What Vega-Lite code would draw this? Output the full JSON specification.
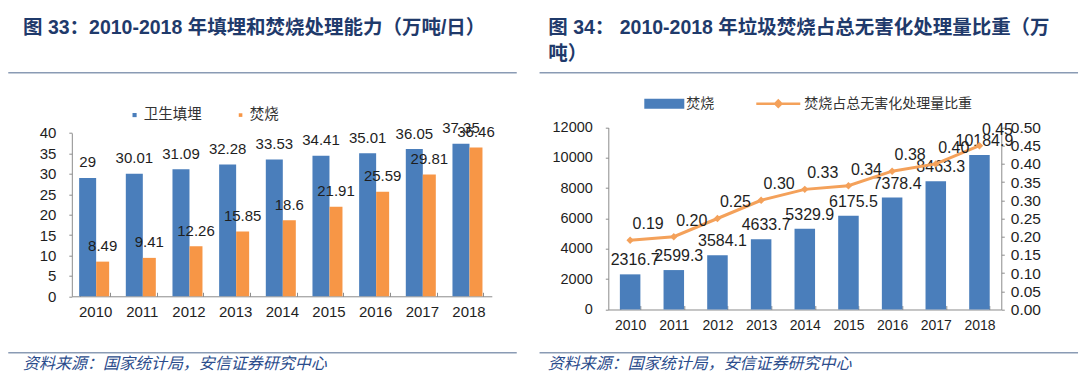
{
  "$schema": "https://vega.github.io/schema/vega-lite/v6.json",
  "padding": {"left": 8, "top": 16.7, "right": 0, "bottom": 4},
  "background": "white",
  "config": {
    "font": "Liberation Sans, Noto Sans CJK SC",
    "view": {"stroke": null},
    "axis": {"grid": false, "domainColor": "#8c8c8c", "tickColor": "#8c8c8c", "labelColor": "#1e1e1e", "labelFont": "Liberation Sans, Noto Sans CJK SC"},
    "legend": {"labelFont": "Liberation Sans, Noto Sans CJK SC", "labelColor": "#333333", "labelLimit": 400}
  },
  "resolve": {"legend": {"color": "independent", "fill": "independent", "stroke": "independent", "size": "independent"}},
  "datasets": {
    "cap": [
      {"year": "2010", "type": "卫生填埋", "value": 29},
      {"year": "2011", "type": "卫生填埋", "value": 30.01},
      {"year": "2012", "type": "卫生填埋", "value": 31.09},
      {"year": "2013", "type": "卫生填埋", "value": 32.28},
      {"year": "2014", "type": "卫生填埋", "value": 33.53},
      {"year": "2015", "type": "卫生填埋", "value": 34.41},
      {"year": "2016", "type": "卫生填埋", "value": 35.01},
      {"year": "2017", "type": "卫生填埋", "value": 36.05},
      {"year": "2018", "type": "卫生填埋", "value": 37.35},
      {"year": "2010", "type": "焚烧", "value": 8.49},
      {"year": "2011", "type": "焚烧", "value": 9.41},
      {"year": "2012", "type": "焚烧", "value": 12.26},
      {"year": "2013", "type": "焚烧", "value": 15.85},
      {"year": "2014", "type": "焚烧", "value": 18.6},
      {"year": "2015", "type": "焚烧", "value": 21.91},
      {"year": "2016", "type": "焚烧", "value": 25.59},
      {"year": "2017", "type": "焚烧", "value": 29.81},
      {"year": "2018", "type": "焚烧", "value": 36.46}
    ],
    "inc": [
      {"year": "2010", "amount": 2316.7, "share": 0.19},
      {"year": "2011", "amount": 2599.3, "share": 0.20},
      {"year": "2012", "amount": 3584.1, "share": 0.25},
      {"year": "2013", "amount": 4633.7, "share": 0.30},
      {"year": "2014", "amount": 5329.9, "share": 0.33},
      {"year": "2015", "amount": 6175.5, "share": 0.34},
      {"year": "2016", "amount": 7378.4, "share": 0.38},
      {"year": "2017", "amount": 8463.3, "share": 0.40},
      {"year": "2018", "amount": 10184.9, "share": 0.45}
    ]
  },
  "columns": 2,
  "spacing": {"row": 20, "column": 24.3},
  "bounds": "flush",
  "concat": [
    {
      "width": 507, "height": 0.01,
      "view": {"stroke": "#8A9BB4", "strokeWidth": 1.5},
      "title": {"text": "图 33：2010-2018 年填埋和焚烧处理能力（万吨/日）", "anchor": "start", "dx": 14, "offset": 28.3, "fontSize": 19.5, "fontWeight": "bold", "color": "#1F3A6B", "font": "Liberation Sans, Noto Sans CJK SC"},
      "data": {"values": [{}]},
      "mark": {"type": "text", "text": ""},
      "encoding": {}
    },
    {
      "width": 537, "height": 0.01,
      "view": {"stroke": "#8A9BB4", "strokeWidth": 1.5},
      "title": {"text": ["图 34：  2010-2018 年垃圾焚烧占总无害化处理量比重（万", "吨）"], "anchor": "start", "dx": 8, "offset": 1.8, "lineHeight": 26.6, "fontSize": 19.5, "fontWeight": "bold", "color": "#1F3A6B", "font": "Liberation Sans, Noto Sans CJK SC"},
      "data": {"values": [{}]},
      "mark": {"type": "text", "text": ""},
      "encoding": {}
    },
    {
      "width": 483, "height": 239,
      "data": {"name": "cap"},
      "encoding": {
        "x": {"field": "year", "type": "nominal", "scale": {"range": [62.8, 482.8], "paddingInner": 0.357, "paddingOuter": 0.1785},
          "axis": {"title": null, "labelAngle": 0, "labelFontSize": 15, "tickBand": "extent", "tickSize": -4, "labelPadding": 12.3, "offset": -36.4}},
        "xOffset": {"field": "type", "type": "nominal", "scale": {"domain": ["卫生填埋", "焚烧"], "paddingInner": 0, "paddingOuter": 0}},
        "y": {"field": "value", "type": "quantitative", "scale": {"domain": [0, 40], "nice": false, "range": [202.6, 39.3]},
          "axis": {"title": null, "tickCount": 8, "labelFontSize": 15, "tickSize": 3, "labelPadding": 13, "offset": -62.8}}
      },
      "layer": [
        {
          "mark": {"type": "bar"},
          "encoding": {
            "color": {"field": "type", "type": "nominal", "scale": {"domain": ["卫生填埋", "焚烧"], "range": ["#4A7EBB", "#F79646"]},
              "legend": {"title": null, "orient": "none", "direction": "horizontal", "legendX": 118.3, "legendY": 14, "symbolType": "square", "symbolSize": 64, "symbolStrokeWidth": 0, "labelFontSize": 14.5, "labelOffset": 2, "columnPadding": 31}},
            "size": {"field": "type", "type": "ordinal", "scale": {"type": "ordinal", "domain": ["卫生填埋", "焚烧"], "range": [17, 13]}, "legend": null}
          }
        },
        {
          "mark": {"type": "text", "baseline": "alphabetic", "dy": -10.5, "fontSize": 15, "color": "#1e1e1e"},
          "encoding": {"text": {"field": "value", "type": "quantitative", "format": ".4~g"}}
        }
      ]
    },
    {
      "width": 461, "height": 239,
      "data": {"name": "inc"},
      "encoding": {
        "x": {"field": "year", "type": "nominal", "scale": {"range": [68, 461], "paddingInner": 0.53, "paddingOuter": 0.265},
          "axis": {"title": null, "labelAngle": 0, "labelFontSize": 14, "tickBand": "extent", "tickSize": -4, "labelPadding": 13, "offset": -23.2}}
      },
      "layer": [
        {
          "encoding": {
            "y": {"field": "amount", "type": "quantitative", "scale": {"domain": [0, 12000], "nice": false, "range": [215.8, 33.8]},
              "axis": {"title": null, "values": [0, 2000, 4000, 6000, 8000, 10000, 12000], "format": "d", "labelFontSize": 14.5, "tickSize": 3, "labelPadding": 13, "offset": -68}}
          },
          "layer": [
            {
              "mark": {"type": "bar"},
              "encoding": {
                "fill": {"datum": "焚烧", "scale": {"domain": ["焚烧"], "range": ["#4A7EBB"]},
                  "legend": {"title": null, "orient": "none", "legendX": 104, "legendY": -10, "symbolType": "M-1,-0.25H1V0.25H-1Z", "symbolSize": 1600, "symbolStrokeWidth": 0, "labelFontSize": 14, "labelOffset": 2}}
              }
            },
            {
              "mark": {"type": "text", "baseline": "alphabetic", "dy": -9, "dx": 5, "fontSize": 16, "color": "#1e1e1e"},
              "encoding": {"text": {"field": "amount", "type": "quantitative", "format": ".1f"}}
            }
          ]
        },
        {
          "encoding": {
            "y": {"field": "share", "type": "quantitative", "scale": {"domain": [0, 0.5], "nice": false, "range": [215.8, 33.8]},
              "axis": {"title": null, "orient": "right", "values": [0, 0.05, 0.1, 0.15, 0.2, 0.25, 0.3, 0.35, 0.4, 0.45, 0.5], "format": ".2f", "labelFontSize": 15.5, "tickSize": 3, "labelPadding": 6}}
          },
          "layer": [
            {
              "mark": {"type": "line", "strokeWidth": 3, "point": {"filled": true, "shape": "diamond", "size": 55, "fill": "#F4A15A", "stroke": "#F4A15A", "strokeWidth": 0}},
              "encoding": {
                "stroke": {"datum": "焚烧占总无害化处理量比重", "scale": {"domain": ["焚烧占总无害化处理量比重"], "range": ["#F4A15A"]},
                  "legend": {"title": null, "orient": "none", "legendX": 216, "legendY": -12, "symbolType": "M-1,-0.06H1V0.06H-1Z M-0.22,0L0,-0.22L0.22,0L0,0.22Z", "symbolSize": 1936, "symbolFillColor": "#F4A15A", "symbolStrokeWidth": 0, "labelFontSize": 14, "labelOffset": 4}}
              }
            },
            {
              "mark": {"type": "text", "baseline": "alphabetic", "dy": -11, "dx": 18, "fontSize": 16, "color": "#1e1e1e"},
              "encoding": {"text": {"field": "share", "type": "quantitative", "format": ".2f"}}
            }
          ]
        }
      ],
      "resolve": {"scale": {"y": "independent"}}
    },
    {
      "width": 507, "height": 0.01,
      "view": {"stroke": "#8A9BB4", "strokeWidth": 1.5},
      "title": {"text": "资料来源：国家统计局，安信证券研究中心", "orient": "bottom", "anchor": "start", "dx": 14, "dy": -4.5, "offset": 3, "fontSize": 16, "fontStyle": "italic", "fontWeight": "normal", "color": "#2B4C8C", "font": "Noto Sans CJK SC"},
      "data": {"values": [{}]},
      "mark": {"type": "text", "text": ""},
      "encoding": {}
    },
    {
      "width": 537, "height": 0.01,
      "view": {"stroke": "#8A9BB4", "strokeWidth": 1.5},
      "title": {"text": "资料来源：国家统计局，安信证券研究中心", "orient": "bottom", "anchor": "start", "dx": 7.5, "dy": -4.5, "offset": 3, "fontSize": 16, "fontStyle": "italic", "fontWeight": "normal", "color": "#2B4C8C", "font": "Noto Sans CJK SC"},
      "data": {"values": [{}]},
      "mark": {"type": "text", "text": ""},
      "encoding": {}
    }
  ]
}
